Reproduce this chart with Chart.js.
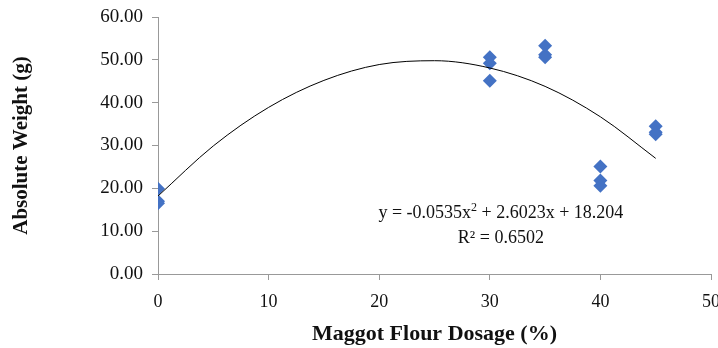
<!DOCTYPE html>
<html>
<head>
<meta charset="utf-8">
<script src="https://cdn.jsdelivr.net/npm/chart.js@4/dist/chart.umd.min.js"></script>
<style>
  html, body { margin: 0; padding: 0; background: #fff; }
  #wrap { width: 718px; height: 348px; }
</style>
</head>
<body>
<div id="wrap"><canvas id="chart" width="718" height="348"></canvas></div>
<script>
// observed weights per dosage
const dosage = [0, 0, 0, 30, 30, 30, 35, 35, 35, 40, 40, 40, 45, 45, 45];
const weight = [19.9, 17.0, 16.5, 50.6, 49.2, 45.1, 53.3, 51.2, 50.6, 25.1, 21.8, 20.6, 34.5, 33.1, 32.6];

// polynomial trendline
const trendX = [0, 5, 10, 15, 20, 25, 30, 35, 40, 45];
const trendY = [18.2, 29.9, 38.9, 45.2, 48.9, 49.8, 48.1, 43.8, 36.7, 27.0];

const equationText = "y = -0.0535x";
const equationRest = " + 2.6023x + 18.204";
const r2Text = "R² = 0.6502";

const serif = "'Liberation Serif', 'Times New Roman', serif";

const equationLabel = {
  id: "equationLabel",
  afterDatasetsDraw(chart) {
    const { ctx, scales } = chart;
    const cx = scales.x.getPixelForValue(31.0);
    const y1 = scales.y.getPixelForValue(14.1);
    const y2 = scales.y.getPixelForValue(8.3);
    ctx.save();
    ctx.fillStyle = "#111";
    ctx.textBaseline = "middle";
    ctx.font = "18px " + serif;
    const w1 = ctx.measureText(equationText).width;
    const w3 = ctx.measureText(equationRest).width;
    ctx.font = "12px " + serif;
    const w2 = ctx.measureText("2").width;
    const total = w1 + w2 + w3;
    const x = cx - total / 2;
    ctx.textAlign = "left";
    ctx.font = "18px " + serif;
    ctx.fillText(equationText, x, y1);
    ctx.font = "12px " + serif;
    ctx.fillText("2", x + w1, y1 - 6);
    ctx.font = "18px " + serif;
    ctx.fillText(equationRest, x + w1 + w2, y1);
    ctx.textAlign = "center";
    ctx.fillText(r2Text, cx, y2);
    ctx.restore();
  },
};

const points = dosage.map((d, i) => ({ x: d, y: weight[i] }));
const trend = trendX.map((d, i) => ({ x: d, y: trendY[i] }));

new Chart(document.getElementById("chart"), {
  type: "scatter",
  data: {
    datasets: [
      {
        label: "trend",
        data: trend,
        showLine: true,
        borderColor: "#000",
        borderWidth: 1,
        pointRadius: 0,
        tension: 0.4,
        cubicInterpolationMode: "monotone",
      },
      {
        label: "weight",
        data: points,
        pointStyle: "rectRot",
        pointRadius: 7,
        backgroundColor: "#4472C4",
        borderColor: "#4472C4",
        borderWidth: 0,
      },
    ],
  },
  options: {
    responsive: false,
    animation: false,
    layout: { padding: { top: 17, right: 7, left: 0, bottom: 0 } },
    plugins: {
      legend: { display: false },
      tooltip: { enabled: false },
    },
    scales: {
      x: {
        type: "linear",
        min: 0,
        max: 50,
        ticks: { stepSize: 10, color: "#111", font: { family: serif, size: 18 }, padding: 11 },
        grid: { drawOnChartArea: false, color: "#999", tickLength: 6 },
        border: { color: "#999" },
        title: {
          display: true,
          text: "Maggot Flour Dosage (%)",
          color: "#111",
          font: { family: serif, size: 22, weight: "bold" },
          padding: { top: 0, bottom: 0 },
        },
        afterFit(scale) {
          scale.height = 74;
          scale.paddingLeft = 0;
          scale.paddingRight = 0;
        },
      },
      y: {
        min: 0,
        max: 60,
        ticks: {
          stepSize: 10,
          color: "#111",
          font: { family: serif, size: 19 },
          padding: 9,
          callback: (v) => Number(v).toFixed(2),
        },
        grid: { drawOnChartArea: false, color: "#999", tickLength: 6 },
        border: { color: "#999" },
        title: {
          display: true,
          text: "Absolute Weight (g)",
          color: "#111",
          font: { family: serif, size: 21, weight: "bold" },
          padding: { top: 9, bottom: 0 },
        },
        afterFit(scale) {
          scale.width = 158;
          scale.paddingTop = 0;
          scale.paddingBottom = 0;
        },
      },
    },
  },
  plugins: [equationLabel],
});
</script>
</body>
</html>
